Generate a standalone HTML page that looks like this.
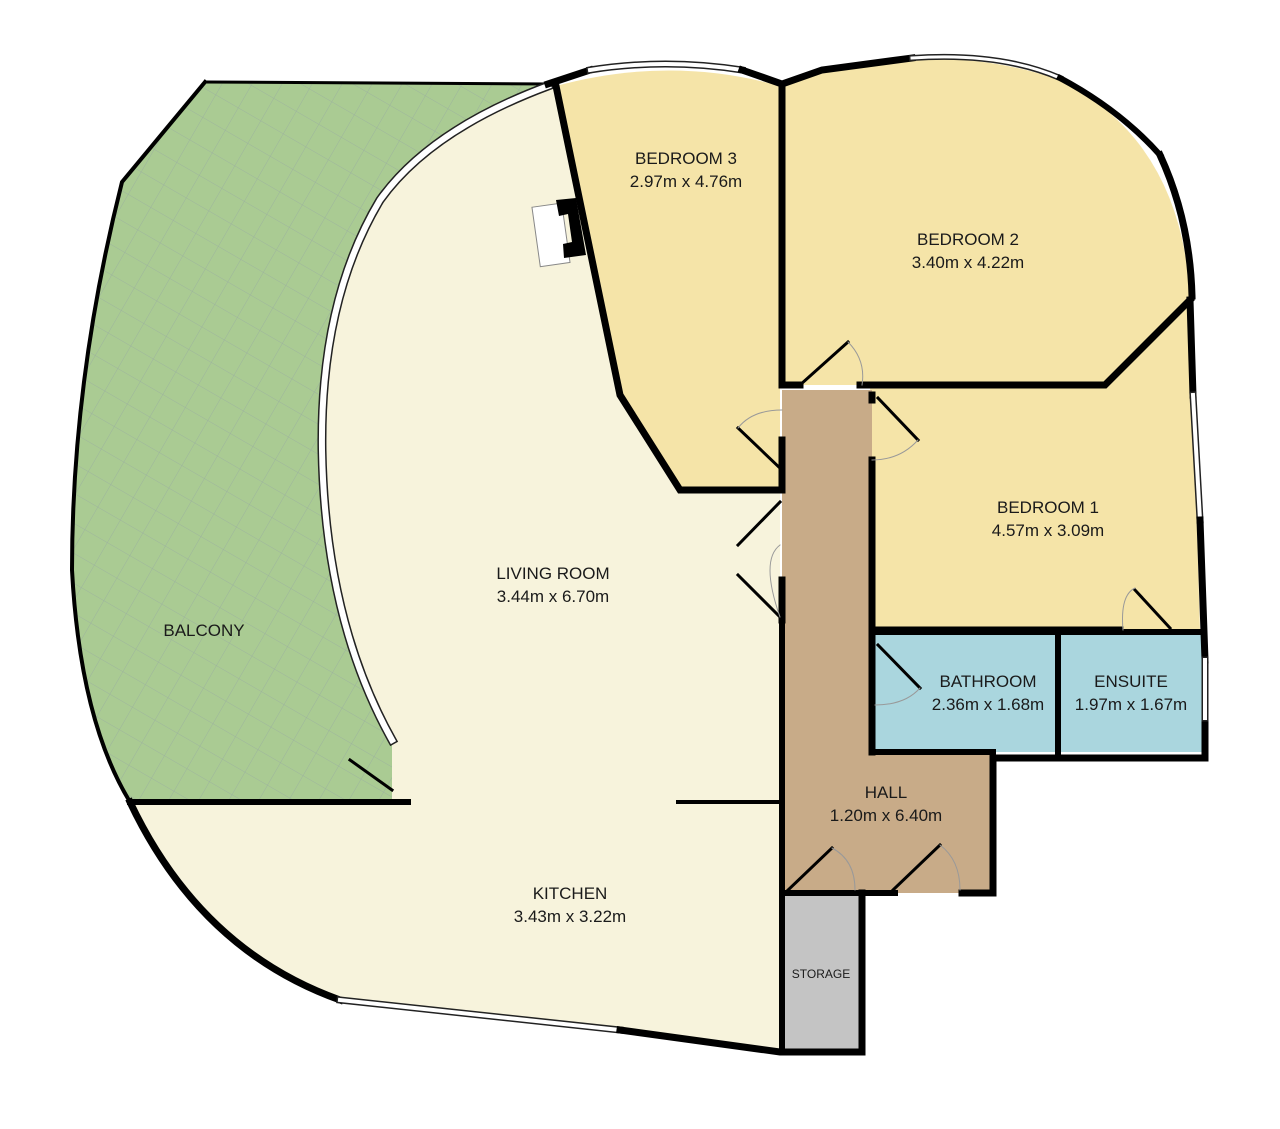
<!DOCTYPE html>
<html><head><meta charset="utf-8"><style>
html,body{margin:0;padding:0;background:#fff;width:1280px;height:1129px;overflow:hidden}
text{font-family:"Liberation Sans",sans-serif;fill:#1a1a1a;text-anchor:middle}
</style></head><body>
<svg width="1280" height="1129" viewBox="0 0 1280 1129" xmlns="http://www.w3.org/2000/svg">
<defs>
<pattern id="grid" width="26" height="26" patternUnits="userSpaceOnUse" patternTransform="rotate(30)">
<rect width="26" height="26" fill="#aacb93"/>
<path d="M0 0H26M0 0V26" stroke="#9aaea0" stroke-width="0.8" fill="none"/>
</pattern>
</defs>
<!-- balcony -->
<path d="M205 82 L548 84 Q430 130 380 200 Q320 300 322 450 Q325 620 392 740 L392 802 L130 802 Q80 720 72 570 Q72 380 122 182 Z" fill="url(#grid)"/>
<!-- living/kitchen -->
<path d="M548 86 L556 86 L620 395 L680 490 L780 490 L780 1052 Q560 1020 340 1000 Q200 950 130 802 L392 802 L392 740 Q325 620 322 450 Q320 300 380 200 Q430 130 548 86 Z" fill="#f7f3dc"/>
<!-- bedroom 3 -->
<path d="M556 86 Q670 55 780 86 L780 490 L680 490 L620 395 Z" fill="#f5e4a8"/>
<!-- bedroom 2 -->
<path d="M780 86 Q930 35 1060 80 Q1180 140 1190 295 L1105 385 L780 385 Z" fill="#f5e4a8"/>
<!-- bedroom 1 -->
<path d="M870 385 L1105 385 L1190 300 L1200 630 L875 630 Z" fill="#f5e4a8"/>
<!-- hall -->
<path d="M782 390 L872 390 L872 752 L993 752 L993 893 L782 893 Z" fill="#c8ab88"/>
<!-- bathroom, ensuite -->
<rect x="875" y="632" width="183" height="120" fill="#aad6de"/>
<rect x="1060" y="632" width="143" height="120" fill="#aad6de"/>
<!-- storage -->
<rect x="782" y="893" width="80" height="159" fill="#c4c4c4"/>

<g fill="none" stroke="#000" stroke-linecap="square">
<!-- balcony outline thin -->
<path d="M205 82 L548 84" stroke-width="3"/>
<path d="M205 82 L122 182 Q72 380 72 570 Q80 720 130 802" stroke-width="4"/>
<!-- curved window living -->
<path d="M548 86 Q430 130 380 200 Q320 300 322 450 Q325 620 392 740" stroke="#222" stroke-width="9"/>
<path d="M548 86 Q430 130 380 200 Q320 300 322 450 Q325 620 392 740" stroke="#fff" stroke-width="6"/>
<!-- balcony/kitchen wall -->
<path d="M130 802 L408 802" stroke-width="6"/>
<path d="M678 802 L780 802" stroke-width="4"/>
<path d="M350 760 L392 790" stroke-width="3"/>
<!-- kitchen outer -->
<path d="M130 802 Q200 950 340 1000" stroke-width="7"/>
<path d="M340 1000 L620 1030" stroke="#222" stroke-width="7"/>
<path d="M340 1000 L620 1030" stroke="#fff" stroke-width="4"/>
<path d="M620 1030 L780 1052 L862 1052 L862 893" stroke-width="7"/>
<!-- bedroom 3 walls -->
<path d="M556 86 L620 395 L680 490 L780 490" stroke-width="7"/>
<path d="M548 84 L590 70" stroke-width="7"/>
<path d="M590 70 Q665 58 742 70" stroke="#222" stroke-width="7"/>
<path d="M590 70 Q665 58 742 70" stroke="#fff" stroke-width="4"/>
<path d="M742 70 L782 84 L822 70 L912 58" stroke-width="7"/>
<path d="M912 58 Q1000 52 1060 78" stroke="#222" stroke-width="6"/>
<path d="M912 58 Q1000 52 1060 78" stroke="#fff" stroke-width="3"/>
<path d="M1060 78 Q1120 110 1160 155" stroke-width="6"/>
<path d="M1160 155 Q1190 220 1192 296" stroke-width="7"/>
<path d="M782 84 L782 380" stroke-width="7"/>
<path d="M782 440 L782 490" stroke-width="7"/>
<path d="M782 580 L782 620" stroke-width="7"/>
<path d="M782 385 L800 385 M860 385 L1105 385 L1190 300" stroke-width="7"/>
<path d="M1190 300 L1193 395" stroke-width="7"/>
<path d="M1193 395 L1200 520" stroke="#222" stroke-width="7"/>
<path d="M1193 395 L1200 520" stroke="#fff" stroke-width="4"/>
<path d="M1200 520 L1205 660 M1205 718 L1205 758 L993 758 L993 893 L962 893" stroke-width="7"/>
<path d="M1205 660 L1205 718" stroke="#222" stroke-width="7"/>
<path d="M1205 660 L1205 718" stroke="#fff" stroke-width="4"/>
<path d="M872 395 L872 400 M872 460 L872 630 L1120 630" stroke-width="7"/>
<path d="M872 630 L872 752" stroke-width="7"/>
<path d="M875 632 L1200 632" stroke-width="6"/>
<path d="M1058 632 L1058 752" stroke-width="6"/>
<path d="M872 752 L993 752" stroke-width="6"/>
<path d="M782 620 L782 893 L858 893 M895 893 L858 893 L862 893" stroke-width="6"/>
<path d="M782 893 L782 1052" stroke-width="6"/>
<path d="M862 893 L895 893" stroke-width="6"/>
<!-- doors -->
<g stroke-width="3">
<path d="M800 385 L848 342"/><path d="M878 398 L918 440"/>
<path d="M738 428 L782 470"/><path d="M738 575 L780 617"/><path d="M738 545 L780 502"/>
<path d="M878 645 L920 688"/><path d="M1135 590 L1170 628"/>
<path d="M786 892 L832 848"/><path d="M893 890 L940 845"/>
</g>
<g stroke="#999" stroke-width="1">
<path d="M848 342 Q866 360 862 385"/><path d="M918 440 Q900 460 872 460"/>
<path d="M738 428 Q752 410 782 410"/><path d="M780 617 Q760 560 780 545"/>
<path d="M920 688 Q905 705 875 705"/><path d="M1123 630 Q1120 595 1135 588"/>
<path d="M832 848 Q855 860 855 890"/><path d="M940 845 Q960 860 960 890"/>
</g>
</g>
<!-- fireplace -->
<rect x="536" y="205" width="30" height="60" fill="#fff" stroke="#888" stroke-width="1" transform="rotate(-8 550 235)"/>
<path d="M556 200 L576 198 L586 255 L564 258 L563 244 L572 242 L568 214 L559 216 Z" fill="#000"/>

<text x="686" y="164" font-size="17">BEDROOM 3</text>
<text x="686" y="187" font-size="17">2.97m x 4.76m</text>
<text x="968" y="245" font-size="17">BEDROOM 2</text>
<text x="968" y="268" font-size="17">3.40m x 4.22m</text>
<text x="1048" y="513" font-size="17">BEDROOM 1</text>
<text x="1048" y="536" font-size="17">4.57m x 3.09m</text>
<text x="553" y="579" font-size="17">LIVING ROOM</text>
<text x="553" y="602" font-size="17">3.44m x 6.70m</text>
<text x="204" y="636" font-size="17">BALCONY</text>
<text x="570" y="899" font-size="17">KITCHEN</text>
<text x="570" y="922" font-size="17">3.43m x 3.22m</text>
<text x="988" y="687" font-size="17">BATHROOM</text>
<text x="988" y="710" font-size="17">2.36m x 1.68m</text>
<text x="1131" y="687" font-size="17">ENSUITE</text>
<text x="1131" y="710" font-size="17">1.97m x 1.67m</text>
<text x="886" y="798" font-size="17">HALL</text>
<text x="886" y="821" font-size="17">1.20m x 6.40m</text>
<text x="821" y="978" font-size="12">STORAGE</text>
</svg>
</body></html>
